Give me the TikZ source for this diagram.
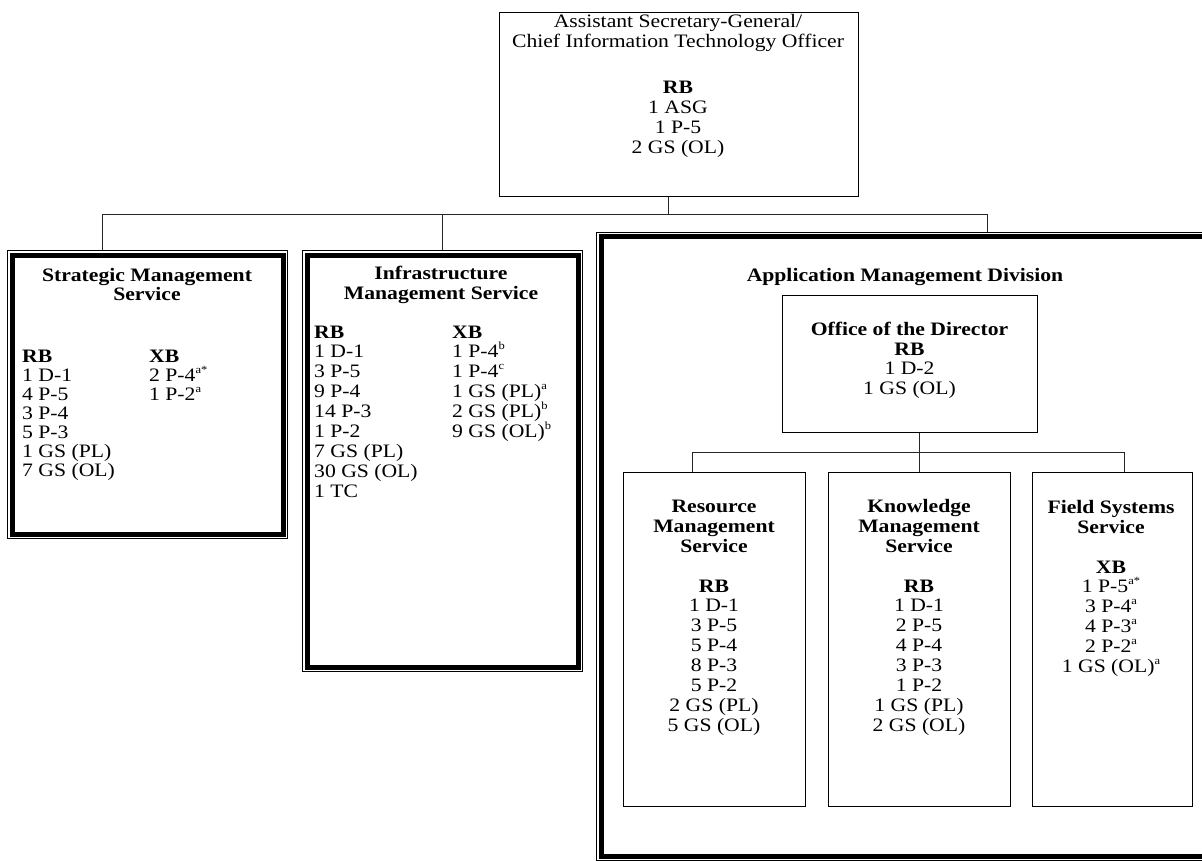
\documentclass[tikz,border=0pt]{standalone}
\usepackage{fontspec}
\setmainfont{Liberation Serif}[FakeStretch=1.14]
\newcommand\mylsk{19.9}
\newcommand\mylss{19.0}
\newcommand\sups[1]{\raisebox{0.42em}{\fontsize{11}{10}\selectfont #1}}
\begin{document}
\begin{tikzpicture}[x=1pt,y=-1pt,
  txt/.style={inner sep=0pt, font=\fontsize{19}{19.9}\selectfont},
  ttl/.style={inner sep=0pt, font=\fontsize{19}{19.9}\selectfont\bfseries},
  plainbox/.style={draw=black, line width=1pt, rectangle, anchor=north west, inner sep=0pt},
  link/.style={draw=black!85, line width=1pt},
  thickrim/.style={draw=black, line width=5pt},
]
\clip (0,0) rectangle (1202,861);
\useasboundingbox (0,0) rectangle (1202,861);
\fill[white] (0,0) rectangle (1202,861);

% ---------- boxes ----------
\node[plainbox, minimum width=359pt, minimum height=184pt] (top) at (499,12) {};
\node[plainbox, minimum width=280pt, minimum height=288pt] (sms) at (7,250) {};
\node[plainbox, minimum width=280pt, minimum height=421pt] (ims) at (302,250) {};
\node[plainbox, minimum width=626pt, minimum height=628pt] (amd) at (596,232) {};
\foreach \b in {sms,ims,amd}
  \draw[thickrim] ([shift={(5,5)}]\b.north west) rectangle ([shift={(-5,-5)}]\b.south east);

\node[plainbox, minimum width=255pt, minimum height=137pt] (office) at (782,295) {};
\node[plainbox, minimum width=182pt, minimum height=334pt] (rms) at (623,472) {};
\node[plainbox, minimum width=182pt, minimum height=334pt] (kms) at (828,472) {};
\node[plainbox, minimum width=160pt, minimum height=334pt] (fss) at (1032,472) {};

% ---------- connectors ----------
\coordinate (j0) at (668,215);
\coordinate (busL) at (102,215);
\coordinate (busR) at (987,215);
\draw[link] (j0 |- top.south) -- (j0);
\draw[link] (busL |- sms.north) -- (busL) -- (busR) -- (busR |- amd.north);
\draw[link] (ims.north) -- (ims.north |- busL);

\coordinate (j1) at (919,452);
\coordinate (bus2L) at (692,452);
\coordinate (bus2R) at (1124,452);
\draw[link] (j1 |- office.south) -- (j1 |- kms.north);
\draw[link] (bus2L |- rms.north) -- (bus2L) -- (bus2R) -- (bus2R |- fss.north);

% ---------- top box text ----------
\node[txt, anchor=base] (topA) at (678,28) {Assistant Secretary-General/};
\node[txt, anchor=base] (topB) at (678,48) {Chief Information Technology Officer};
\node[ttl, anchor=base] (topRB) at (678,94) {RB};
\foreach \t [count=\i] in {1 ASG,1 P-5,2 GS (OL)}
  \node[txt, anchor=base] (topL\i) at (678,{94+\mylsk*\i}) {\t};

% ---------- Strategic Management Service ----------
\node[ttl, anchor=base] (smsT1) at (147,281) {Strategic Management};
\node[ttl, anchor=base] (smsT2) at (147,300) {Service};
\node[ttl, anchor=base west] (smsRB) at (22,362) {RB};
\foreach \t [count=\i] in {1 D-1,4 P-5,3 P-4,5 P-3,1 GS (PL),7 GS (OL)}
  \node[txt, anchor=base west] (smsR\i) at (22,{362+\mylss*\i}) {\t};
\node[ttl, anchor=base west] (smsXB) at (149,362) {XB};
\foreach \t [count=\i] in {{2 P-4\sups{a*}},{1 P-2\sups{a}}}
  \node[txt, anchor=base west] (smsX\i) at (149,{362+\mylss*\i}) {\t};

% ---------- Infrastructure Management Service ----------
\node[ttl, anchor=base] (imsT1) at (441,279) {Infrastructure};
\node[ttl, anchor=base] (imsT2) at (441,299) {Management Service};
\node[ttl, anchor=base west] (imsRB) at (314,338) {RB};
\foreach \t [count=\i] in {1 D-1,3 P-5,9 P-4,14 P-3,1 P-2,7 GS (PL),30 GS (OL),1 TC}
  \node[txt, anchor=base west] (imsR\i) at (314,{338+\mylsk*\i}) {\t};
\node[ttl, anchor=base west] (imsXB) at (452,338) {XB};
\foreach \t [count=\i] in {{1 P-4\sups{b}},{1 P-4\sups{c}},{1 GS (PL)\sups{a}},{2 GS (PL)\sups{b}},{9 GS (OL)\sups{b}}}
  \node[txt, anchor=base west] (imsX\i) at (452,{338+\mylsk*\i}) {\t};

% ---------- Application Management Division ----------
\node[ttl, anchor=base] (amdT) at (905,281) {Application Management Division};
\node[ttl, anchor=base] (offT) at (909.5,335) {Office of the Director};
\node[ttl, anchor=base] (offRB) at (909.5,355) {RB};
\foreach \t [count=\i] in {1 D-2,1 GS (OL)}
  \node[txt, anchor=base] (offL\i) at (909.5,{355+\mylsk*\i}) {\t};

% Resource Management Service
\node[ttl, anchor=base] (rmsT1) at (714,512) {Resource};
\node[ttl, anchor=base] (rmsT2) at (714,532) {Management};
\node[ttl, anchor=base] (rmsT3) at (714,552) {Service};
\node[ttl, anchor=base] (rmsRB) at (714,592) {RB};
\foreach \t [count=\i] in {1 D-1,3 P-5,5 P-4,8 P-3,5 P-2,2 GS (PL),5 GS (OL)}
  \node[txt, anchor=base] (rmsL\i) at (714,{592+\mylsk*\i}) {\t};

% Knowledge Management Service
\node[ttl, anchor=base] (kmsT1) at (919,512) {Knowledge};
\node[ttl, anchor=base] (kmsT2) at (919,532) {Management};
\node[ttl, anchor=base] (kmsT3) at (919,552) {Service};
\node[ttl, anchor=base] (kmsRB) at (919,592) {RB};
\foreach \t [count=\i] in {1 D-1,2 P-5,4 P-4,3 P-3,1 P-2,1 GS (PL),2 GS (OL)}
  \node[txt, anchor=base] (kmsL\i) at (919,{592+\mylsk*\i}) {\t};

% Field Systems Service
\node[ttl, anchor=base] (fssT1) at (1111,513) {Field Systems};
\node[ttl, anchor=base] (fssT2) at (1111,533) {Service};
\node[ttl, anchor=base] (fssXB) at (1111,573) {XB};
\foreach \t [count=\i] in {{1 P-5\sups{a*}},{3 P-4\sups{a}},{4 P-3\sups{a}},{2 P-2\sups{a}},{1 GS (OL)\sups{a}}}
  \node[txt, anchor=base] (fssL\i) at (1111,{573+\mylsk*\i}) {\t};
\end{tikzpicture}
\end{document}
